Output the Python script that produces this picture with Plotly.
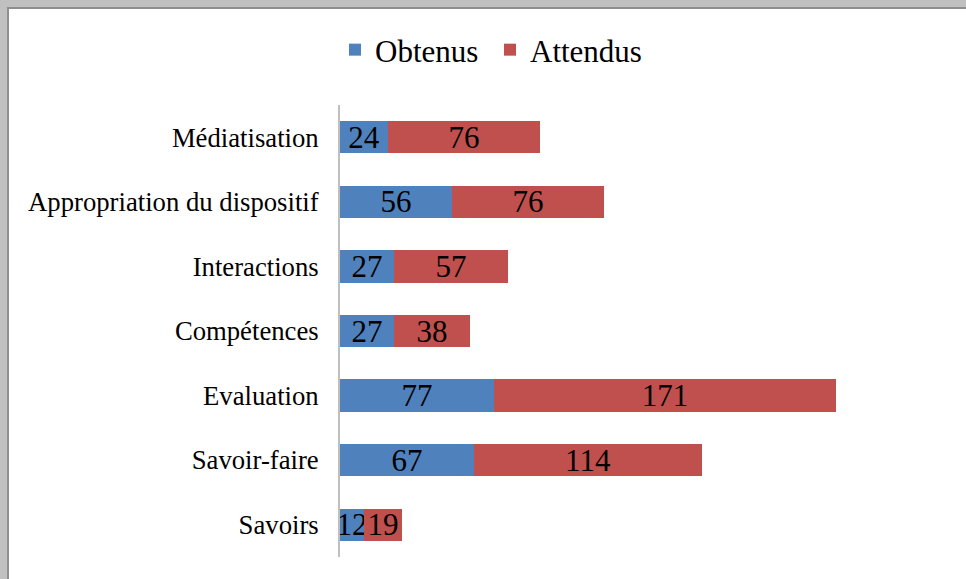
import plotly.graph_objects as go

categories = ["Savoirs", "Savoir-faire", "Evaluation", "Compétences",
              "Interactions", "Appropriation du dispositif", "Médiatisation"]
obtenus = [12, 67, 77, 27, 27, 56, 24]
attendus = [19, 114, 171, 38, 57, 76, 76]

W, H = 966, 579
L, R, T, B = 340, 26, 105, 22
PW, PH = W - L - R, H - T - B

def px(x):
    return (x - L) / PW

def py(y):
    return (H - B - y) / PH

FONT = "Liberation Serif"

fig = go.Figure()
fig.add_trace(go.Bar(
    y=categories, x=obtenus, orientation="h", name="Obtenus",
    marker=dict(color="#4F81BD", line=dict(width=0)),
    text=obtenus, textposition="inside", insidetextanchor="middle",
    constraintext="none", textangle=0,
    textfont=dict(family=FONT, size=31, color="black"),
))
fig.add_trace(go.Bar(
    y=categories, x=attendus, orientation="h", name="Attendus",
    marker=dict(color="#C0504D", line=dict(width=0)),
    text=attendus, textposition="inside", insidetextanchor="middle",
    constraintext="none", textangle=0,
    textfont=dict(family=FONT, size=31, color="black"),
))

shapes = [
    dict(type="rect", xref="paper", yref="paper", layer="below",
         x0=px(7), x1=px(W + 50), y0=py(7), y1=py(H + 50),
         fillcolor="#8f8f8f", line=dict(width=0)),
    dict(type="rect", xref="paper", yref="paper", layer="below",
         x0=px(9), x1=px(W + 50), y0=py(9), y1=py(H + 50),
         fillcolor="white", line=dict(width=0)),
]

fig.update_layout(
    width=W, height=H,
    margin=dict(l=L, r=R, t=T, b=B),
    barmode="stack", bargap=0.5,
    paper_bgcolor="#c0c0c0", plot_bgcolor="rgba(0,0,0,0)",
    font=dict(family=FONT, color="black"),
    shapes=shapes,
    showlegend=True,
    legend=dict(orientation="h", x=px(335), xanchor="left",
                y=py(50), yanchor="middle", entrywidth=110,
                font=dict(family=FONT, size=31, color="black"),
                bgcolor="rgba(0,0,0,0)", traceorder="normal"),
    xaxis=dict(range=[0, 300], visible=False, fixedrange=True),
    yaxis=dict(categoryorder="array", categoryarray=categories,
               showline=True, linecolor="#bfbfbf", linewidth=2,
               ticks="", showgrid=False, zeroline=False,
               ticklabelstandoff=14, fixedrange=True,
               tickfont=dict(family=FONT, size=26.7, color="black")),
)

fig.write_html("out.html",
               config={"displayModeBar": False, "staticPlot": True},
               post_script="document.body.style.margin='0';document.body.style.overflow='hidden';")
